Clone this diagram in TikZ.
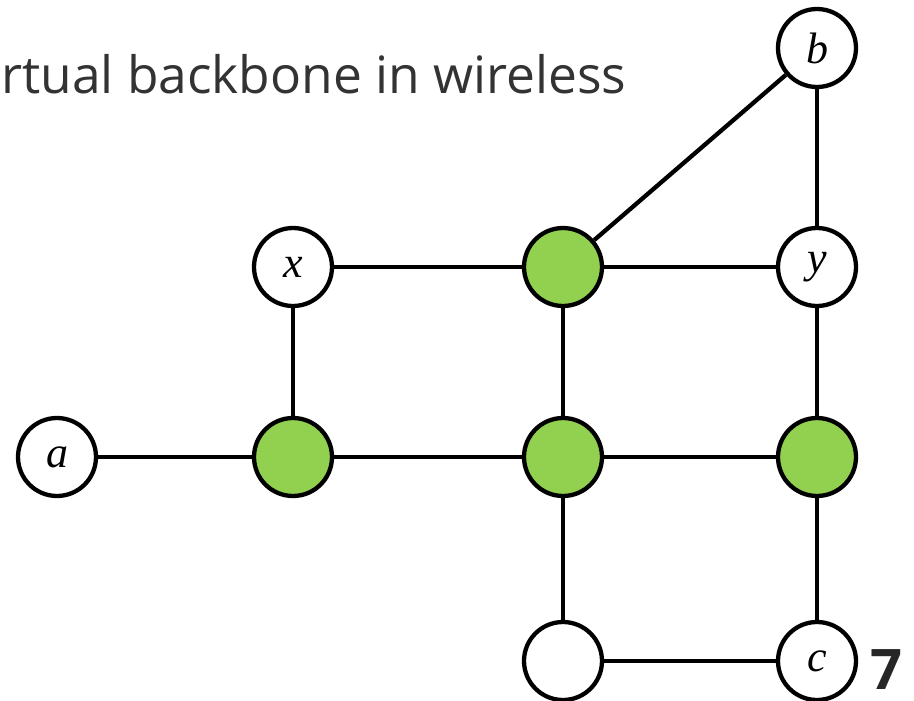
\documentclass[tikz,border=0pt]{standalone}
\usepackage{fontspec}
\setsansfont{Open Sans}
\newfontfamily\vtxfont{Liberation Serif}
\usepackage{tikz}
\usetikzlibrary{arrows.meta,positioning,calc}

\definecolor{cdsgreen}{HTML}{92D050}
\definecolor{slidegray}{HTML}{333333}

\tikzset{
  vtx/.style={circle, draw=black, line width=4.3pt, minimum size=78pt, inner sep=0pt, fill=white, font=\vtxfont\itshape\fontsize{44}{44}\selectfont},
  dom/.style={vtx, fill=cdsgreen},
  edge/.style={line width=4.3pt}
}

\begin{document}
\begin{tikzpicture}[x=1pt,y=-1pt]
      \useasboundingbox (0,0) rectangle (914,701);

      % slide text
      \node[anchor=base west, inner sep=0pt, text=slidegray, font=\sffamily\fontsize{51.5}{52}\selectfont] (title) at (1,94) {rtual backbone in wireless};
      \node[anchor=base east, inner sep=0pt, text=black!85, font=\sffamily\bfseries\fontsize{56}{56}\selectfont] (pgnum) at (903,689) {7};

      % dominating set
      \node[dom] (g2) at (293,457) {};
      \node[dom] (g1) at (563,267) {};
      \node[dom] (g3) at (563,457) {};
      \node[dom] (g4) at (817,457) {};

      % other vertices
      \node[vtx] (a) at (57,457) {a};
      \node[vtx] (x) at (293,267) {x};
      \node[vtx] (y) at (817,267) {y};
      \node[vtx] (b) at (817,48) {b};
      \node[vtx] (w) at (563,661) {};
      \node[vtx] (c) at (817,661) {c};

      \draw[edge] (a) -- (g2);
      \draw[edge] (g2) -- (x);
      \draw[edge] (x) -- (g1);
      \draw[edge] (g1) -- (y);
      \draw[edge] (g1) -- (b);
      \draw[edge] (b) -- (y);
      \draw[edge] (g1) -- (g3);
      \draw[edge] (y) -- (g4);
      \draw[edge] (g2) -- (g3);
      \draw[edge] (g3) -- (g4);
      \draw[edge] (g3) -- (w);
      \draw[edge] (g4) -- (c);
      \draw[edge] (w) -- (c);
\end{tikzpicture}
\end{document}
